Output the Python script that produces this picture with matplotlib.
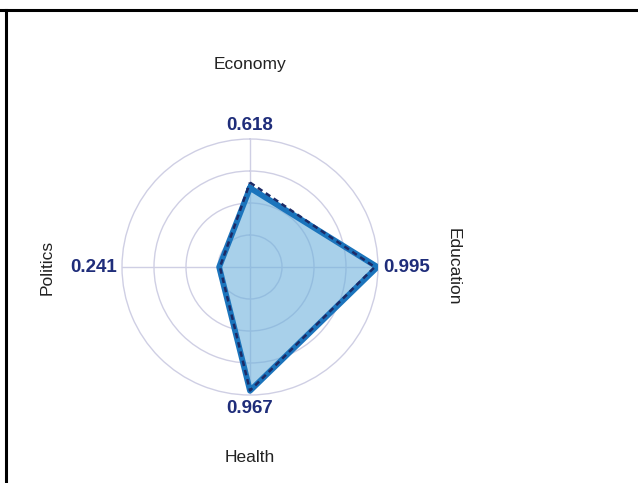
import numpy as np
import matplotlib.pyplot as plt
from matplotlib.lines import Line2D

plt.rcParams['font.family'] = ['Liberation Sans', 'DejaVu Sans']

categories = ['Economy', 'Education', 'Health', 'Politics']
values = [0.618, 0.995, 0.967, 0.241]
reference = [0.66, 0.975, 0.965, 0.235]
value_labels = ['0.618', '0.995', '0.967', '0.241']

grid_col = '#cfcfe4'
fill_col = '#6eb1dc'
line_col = '#1b74bc'
dash_col = '#1c2a66'
text_col = '#1f2d7a'

fig = plt.figure(figsize=(6.38, 4.83), dpi=100)
ax = fig.add_axes([0.1912, 0.1822, 0.4013, 0.530], projection='polar')

angles = np.linspace(0, 2 * np.pi, len(categories), endpoint=False)
ang_c = np.append(angles, angles[0])
v_c = np.append(values, values[0])
r_c = np.append(reference, reference[0])

ax.set_theta_zero_location('N')
ax.set_theta_direction(-1)
ax.set_ylim(0, 1.0)

ax.fill(ang_c, v_c, color=fill_col, alpha=0.6, zorder=2)
ax.plot(ang_c, v_c, color=line_col, lw=4.2, solid_joinstyle='round', zorder=3)
ax.plot(ang_c, r_c, color=dash_col, lw=1.8, ls=(0, (2.2, 1.6)), zorder=4)

ax.set_xticks(angles)
ax.set_xticklabels([])
ax.set_yticks([0.25, 0.5, 0.75])
ax.set_yticklabels([])
ax.grid(color=grid_col, lw=1)
ax.spines['polar'].set_color(grid_col)
ax.spines['polar'].set_linewidth(1)

# value labels just outside the rim
ha_list = ['center', 'left', 'center', 'right']
va_list = ['bottom', 'center', 'top', 'center']
for a, lab, ha, va in zip(angles, value_labels, ha_list, va_list):
    ax.text(a, 1.04, lab, ha=ha, va=va, fontsize=13.5, fontweight='bold',
            color=text_col, clip_on=False)

# category labels further out
rots = [0, -90, 0, 90]
radii = [1.58, 1.585, 1.49, 1.585]
for a, cat, rot, rr in zip(angles, categories, rots, radii):
    ax.text(a, rr, cat, ha='center', va='center', rotation=rot,
            fontsize=12.5, color='#222222', clip_on=False)

# frame lines at top and left
fig.add_artist(Line2D([0, 1], [1 - 9.5 / 483] * 2, color='black', lw=2.2))
fig.add_artist(Line2D([5.5 / 638] * 2, [0, 1 - 9.5 / 483], color='black', lw=2.2))

fig.savefig('out.png', dpi=100, facecolor='white')
